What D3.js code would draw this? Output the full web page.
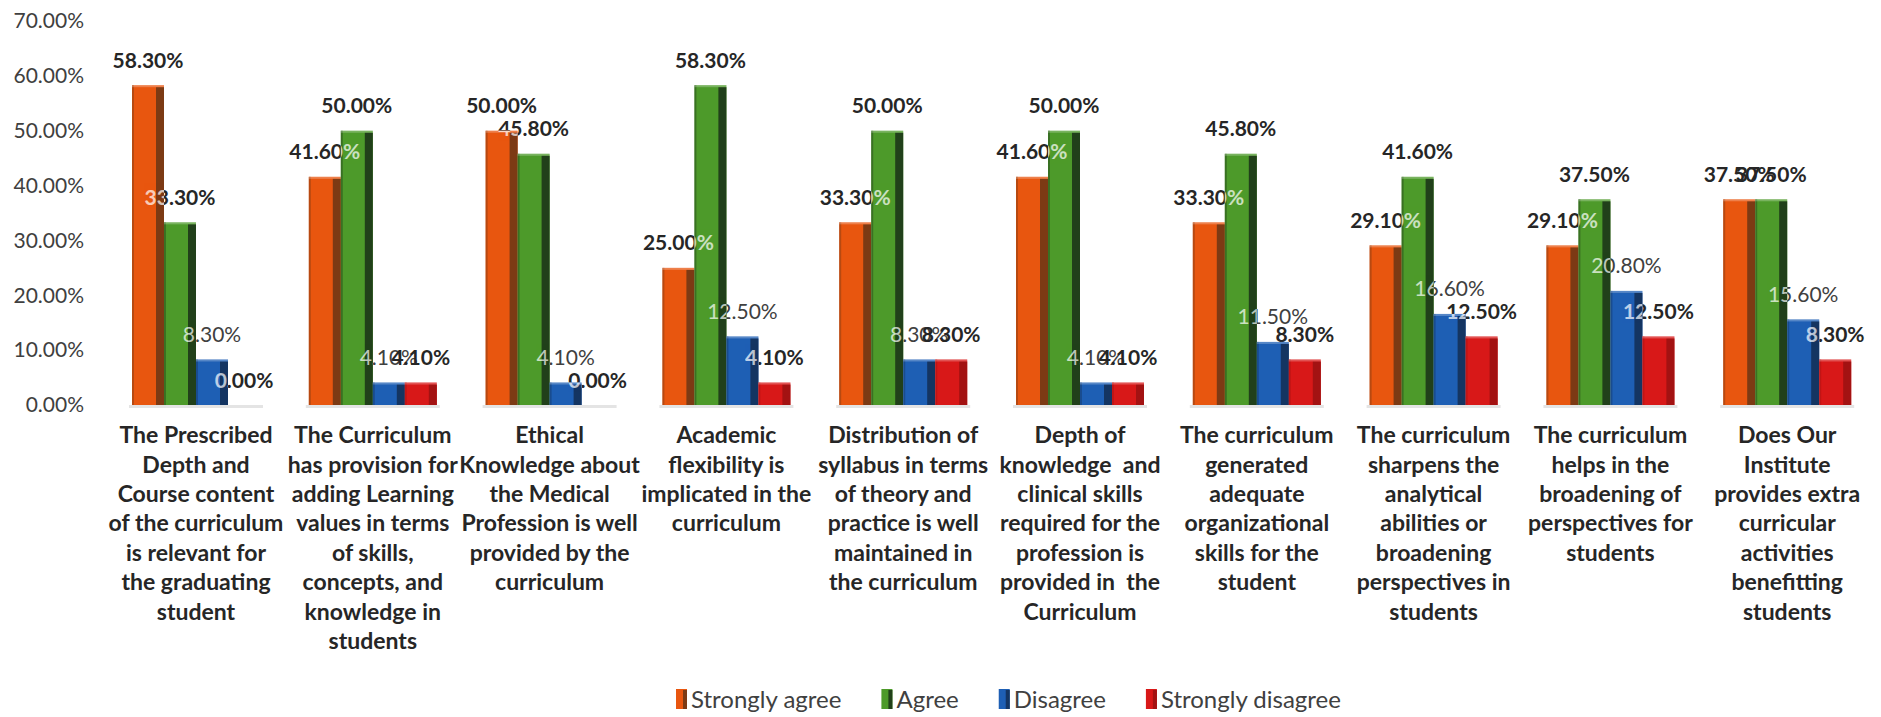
<!DOCTYPE html>
<html>
<head>
<meta charset="utf-8">
<script src="https://cdn.jsdelivr.net/npm/d3@7"></script>
<style>
  body { margin: 0; background: #fff; }
  svg { display: block; font-family: Lato, "Open Sans", sans-serif; }
</style>
</head>
<body>
<div class="canvas"></div>
<script>
// data
const categories = [
  ['The Prescribed', 'Depth and', 'Course content', 'of the curriculum', 'is relevant for', 'the graduating', 'student'],
  ['The Curriculum', 'has provision for', 'adding Learning', 'values in terms', 'of skills,', 'concepts, and', 'knowledge in', 'students'],
  ['Ethical', 'Knowledge about', 'the Medical', 'Profession is well', 'provided by the', 'curriculum'],
  ['Academic', 'flexibility is', 'implicated in the', 'curriculum'],
  ['Distribution of', 'syllabus in terms', 'of theory and', 'practice is well', 'maintained in', 'the curriculum'],
  ['Depth of', 'knowledge  and', 'clinical skills', 'required for the', 'profession is', 'provided in  the', 'Curriculum'],
  ['The curriculum', 'generated', 'adequate', 'organizational', 'skills for the', 'student'],
  ['The curriculum', 'sharpens the', 'analytical', 'abilities or', 'broadening', 'perspectives in', 'students'],
  ['The curriculum', 'helps in the', 'broadening of', 'perspectives for', 'students'],
  ['Does Our', 'Institute', 'provides extra', 'curricular', 'activities', 'benefitting', 'students']
];
const seriesNames = ['Strongly agree', 'Agree', 'Disagree', 'Strongly disagree'];
const stronglyAgree = [58.3, 41.6, 50.0, 25.0, 33.3, 41.6, 33.3, 29.1, 29.1, 37.5];
const agree = [33.3, 50.0, 45.8, 58.3, 50.0, 50.0, 45.8, 41.6, 37.5, 37.5];
const disagree = [8.3, 4.1, 4.1, 12.5, 8.3, 4.1, 11.5, 16.6, 20.8, 15.6];
const stronglyDisagree = [0.0, 4.1, 0.0, 4.1, 8.3, 4.1, 8.3, 12.5, 12.5, 8.3];
const yTicks = [0, 10, 20, 30, 40, 50, 60, 70];

const seriesValues = [stronglyAgree, agree, disagree, stronglyDisagree];
const front = ['#e8560f', '#4d9a2a', '#1e5fb4', '#d81818'];
const side = ['#7c3a14', '#21401a', '#143562', '#a31212'];

const width = 1881, height = 717;

const svg = d3.select('.canvas')
  .append('svg')
    .attr('width', width)
    .attr('height', height);

// scales
const x0 = d3.scaleBand()
  .domain(d3.range(categories.length))
  .range([107.6, 1875.6])
  .paddingInner(0.276)
  .paddingOuter(0.138);

const x1 = d3.scaleBand()
  .domain(d3.range(seriesNames.length))
  .range([0, x0.bandwidth()]);

const y = d3.scaleLinear()
  .domain([0, 70])
  .range([405, 21]);

// y axis, no line or ticks
const yAxis = d3.axisLeft(y)
  .tickValues(yTicks)
  .tickSize(0)
  .tickPadding(4)
  .tickFormat(d => d.toFixed(2) + '%');

const yAxisGroup = svg.append('g')
  .attr('transform', 'translate(88,0)')
  .call(yAxis);
yAxisGroup.select('.domain').remove();
yAxisGroup.selectAll('text')
  .attr('font-family', 'Lato, sans-serif')
  .attr('font-size', 21)
  .attr('fill', '#404040');

// flat records for bars and labels
const data = [];
categories.forEach((c, i) => {
  seriesValues.forEach((vals, s) => {
    data.push({ cat: i, s: s, v: vals[i] });
  });
});
const bx = d => x0(d.cat) + x1(d.s);
const bw = x1.bandwidth();

const labelStyle = sel => sel
  .attr('x', d => bx(d) + bw / 2)
  .attr('y', d => y(d.v) - 25)
  .attr('dy', '0.36em')
  .attr('text-anchor', 'middle')
  .attr('font-size', 21)
  .attr('font-weight', d => d.s === 2 ? 400 : 700)
  .text(d => d.v.toFixed(2) + '%');

// labels first, bars sit over them
svg.append('g').selectAll('text')
  .data(data)
  .enter().append('text')
    .call(labelStyle)
    .attr('fill', d => d.s === 2 ? '#404040' : '#262626');

// floor shadow
svg.append('g').selectAll('rect')
  .data(categories)
  .enter().append('rect')
    .attr('x', (d, i) => x0(i) - 3)
    .attr('y', y(0))
    .attr('width', x0.bandwidth() + 6)
    .attr('height', 3)
    .attr('fill', '#e4e4e4');

const bars = svg.append('g').selectAll('g')
  .data(data.filter(d => d.v > 0))
  .enter().append('g');

bars.append('rect')
  .attr('x', d => bx(d))
  .attr('y', d => y(d.v))
  .attr('width', bw)
  .attr('height', d => y(0) - y(d.v))
  .attr('fill', d => front[d.s]);

bars.append('rect')
  .attr('x', d => bx(d) + bw - 8)
  .attr('y', d => y(d.v) + 2)
  .attr('width', 8)
  .attr('height', d => y(0) - y(d.v) - 2)
  .attr('fill', d => side[d.s]);

bars.append('rect')
  .attr('x', d => bx(d))
  .attr('y', d => y(d.v))
  .attr('width', 2)
  .attr('height', d => y(0) - y(d.v))
  .attr('fill', d => side[d.s])
  .attr('opacity', 0.45);

bars.append('rect')
  .attr('x', d => bx(d))
  .attr('y', d => y(d.v))
  .attr('width', bw)
  .attr('height', 2)
  .attr('fill', '#fff')
  .attr('opacity', 0.25);

// pale text where labels run over bars
const clip = svg.append('clipPath').attr('id', 'barclip');
clip.selectAll('rect')
  .data(data.filter(d => d.v > 0))
  .enter().append('rect')
    .attr('x', d => bx(d))
    .attr('y', d => y(d.v))
    .attr('width', bw)
    .attr('height', d => y(0) - y(d.v));

svg.append('g')
  .attr('clip-path', 'url(#barclip)')
  .selectAll('text')
  .data(data)
  .enter().append('text')
    .call(labelStyle)
    .attr('fill', '#fff')
    .attr('opacity', 0.7);

// category labels
const catGroup = svg.append('g')
  .attr('font-size', 23)
  .attr('font-weight', 700)
  .attr('fill', '#262626')
  .attr('text-anchor', 'middle');

categories.forEach((lines, i) => {
  const t = catGroup.append('text')
    .attr('x', x0(i) + x0.bandwidth() / 2)
    .attr('y', 435)
    .attr('xml:space', 'preserve');
  lines.forEach((ln, k) => {
    t.append('tspan')
      .attr('x', x0(i) + x0.bandwidth() / 2)
      .attr('y', 435 + k * 29.4)
      .attr('dy', '0.36em')
      .text(ln);
  });
});

// legend
const legend = svg.append('g').attr('transform', 'translate(676,699)');
let lx = 0;
seriesNames.forEach((name, s) => {
  const g = legend.append('g').attr('transform', `translate(${lx},0)`);
  g.append('rect').attr('x', 0).attr('y', -10).attr('width', 11).attr('height', 20).attr('fill', front[s]);
  g.append('rect').attr('x', 7).attr('y', -9).attr('width', 4).attr('height', 19).attr('fill', side[s]);
  const t = g.append('text')
    .attr('x', 15)
    .attr('y', 0)
    .attr('dy', '0.36em')
    .attr('font-size', 24)
    .attr('fill', '#404040')
    .text(name);
  lx += 15 + t.node().getComputedTextLength() + 40;
});
</script>
</body>
</html>
